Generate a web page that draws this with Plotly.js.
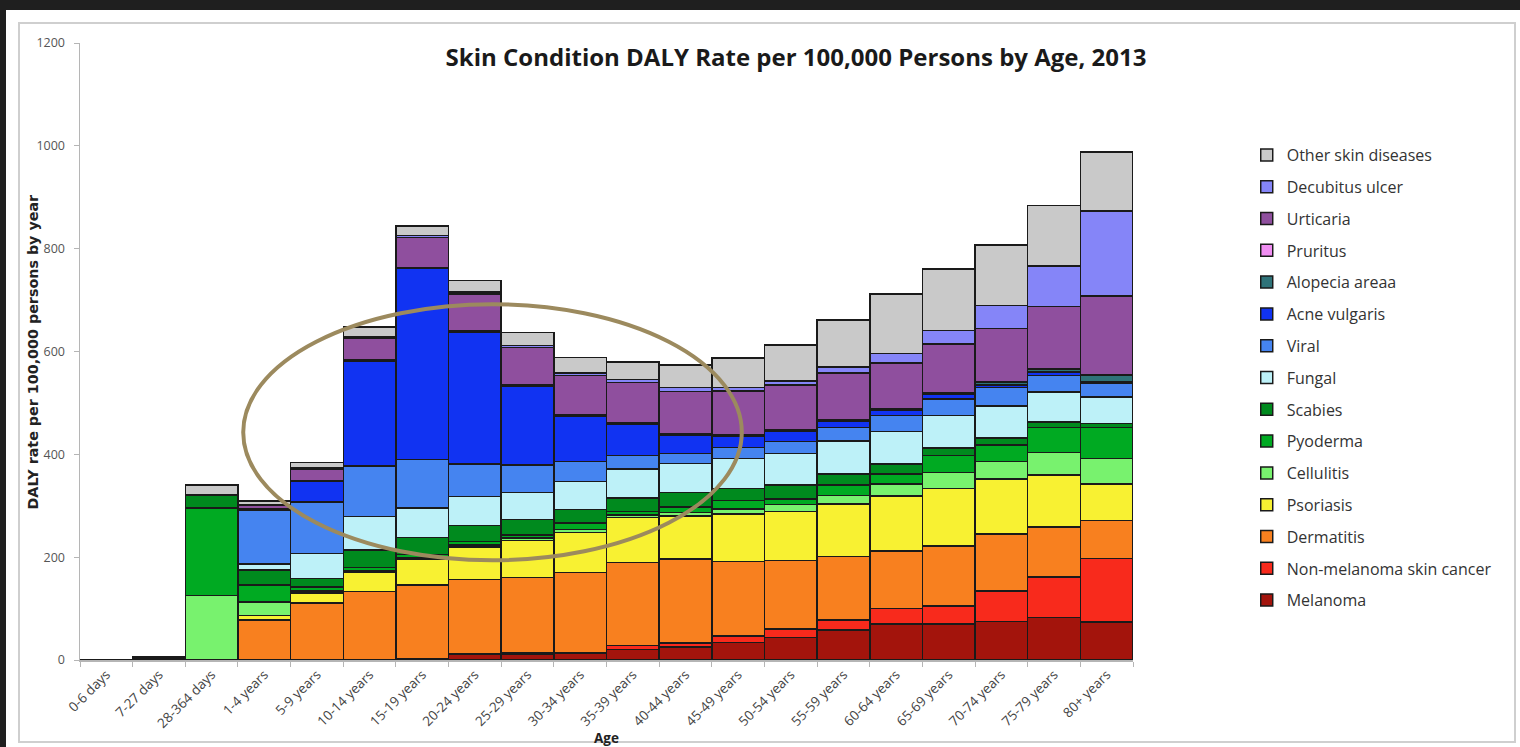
<!DOCTYPE html>
<html>
<head>
<meta charset="utf-8">
<script src="https://cdn.plot.ly/plotly-3.0.1.min.js"></script>
<style>
  html, body { margin:0; padding:0; background:#1f1f1f; width:1520px; height:747px; overflow:hidden; }
  #panel { position:absolute; left:6px; top:10px; width:1514px; height:737px; background:#ffffff; }
  #frame { position:absolute; left:18px; top:22px; width:1498px; height:721px; border:2px solid #cfcfcf; box-sizing:border-box; }
  #chart { position:absolute; left:0; top:0; width:1520px; height:747px; }
</style>
</head>
<body>
<div id="panel"></div>
<div id="frame"></div>
<div id="chart"></div>
<script>
const ages = ["0-6 days","7-27 days","28-364 days","1-4 years","5-9 years","10-14 years","15-19 years","20-24 years","25-29 years","30-34 years","35-39 years","40-44 years","45-49 years","50-54 years","55-59 years","60-64 years","65-69 years","70-74 years","75-79 years","80+ years"];

const melanoma   = [0,0,0,0,0,0,2,11,12,13,20,25,34,44,58,70,70,75,83,74];
const nmsc       = [0,0,0,0,0,0,0,2,2,2,8,8,13,16,20,30,35,59,78,123];
const dermatitis = [0,0,0,78,111,133,144,144,146,155,162,163,145,134,123,112,117,111,98,74];
const psoriasis  = [0,0,0,9,19,37,50,63,72,78,87,84,92,95,102,107,112,107,101,71];
const cellulitis = [0,1,125,26,4,3,3,4,5,6,5,7,10,13,17,23,31,34,44,50];
const pyoderma   = [0,2,171,33,8,7,6,6,6,12,7,11,16,11,20,20,33,32,48,60];
const scabies    = [0,1,25,29,17,34,33,32,30,27,26,28,24,27,22,19,14,14,11,8];
const fungal     = [0,0,0,12,48,65,58,56,53,54,56,56,58,62,64,63,64,62,58,52];
const viral      = [0,0,0,105,100,98,94,63,53,39,27,20,21,23,26,32,32,36,32,27];
const acne       = [0,0,0,2,40,204,371,257,153,88,61,35,23,19,12,9,8,5,7,3];
const alopecia   = [0,0,0,0,1,1,1,2,2,2,2,2,2,2,3,3,3,6,5,12];
const pruritus   = [0,0,0,0,0,1,1,1,1,1,1,1,1,1,1,1,1,1,1,1];
const urticaria  = [0,0,1,7,23,42,59,71,73,76,78,82,84,88,90,89,95,103,122,153];
const decubitus  = [0,0,0,0,3,3,4,4,4,5,6,8,7,8,12,18,26,44,78,165];
const other      = [1,2,18,8,10,20,18,22,25,30,34,44,57,70,91,116,119,118,118,115];

const seriesNames = ["Melanoma","Non-melanoma skin cancer","Dermatitis","Psoriasis","Cellulitis","Pyoderma","Scabies","Fungal","Viral","Acne vulgaris","Alopecia areaa","Pruritus","Urticaria","Decubitus ulcer","Other skin diseases"];
const seriesValues = [melanoma,nmsc,dermatitis,psoriasis,cellulitis,pyoderma,scabies,fungal,viral,acne,alopecia,pruritus,urticaria,decubitus,other];
const seriesColors = ["#a3140c","#f82a1c","#f8801f","#f8f132","#78f26e","#00aa22","#008a1e","#bdf1f8","#4584f0","#1133f2","#2f7379","#f08ef2","#8f4f9e","#8585f8","#c9c9c9"];

const traces = seriesNames.map((n, i) => ({
  type: 'bar',
  name: n,
  x: ages,
  y: seriesValues[i],
  legendgroup: 'g' + i,
  legendrank: 1000 - i,
  marker: { color: seriesColors[i], line: { color: '#1a1a1a', width: 1.5 } },
  hoverinfo: 'name+y'
}));

const FONT = 'Open Sans, Lato, sans-serif';

const layout = {
  width: 1520, height: 747,
  margin: { l: 80, r: 387, t: 43, b: 87 },
  paper_bgcolor: 'rgba(0,0,0,0)',
  plot_bgcolor: 'rgba(0,0,0,0)',
  barmode: 'stack',
  bargap: 0,
  font: { family: FONT, color: '#444' },
  title: {
    text: '<b>Skin Condition DALY Rate per 100,000 Persons by Age, 2013</b>',
    font: { family: FONT, size: 24, color: '#1a1a1a' },
    x: 0.68, xref: 'paper', xanchor: 'center',
    y: 1 - 58/747, yref: 'container', yanchor: 'middle'
  },
  xaxis: {
    type: 'category',
    tickangle: -45,
    tickfont: { family: FONT, size: 13.5, color: '#444' },
    showline: true, linecolor: '#b5b5b5', linewidth: 1.5,
    ticks: 'outside', tickson: 'boundaries', ticklen: 5, tickcolor: '#b5b5b5',
    showgrid: false, zeroline: false,
    title: { text: '<b>Age</b>', font: { family: FONT, size: 13.5, color: '#222' }, standoff: 0 },
    automargin: false
  },
  yaxis: {
    range: [0, 1200], dtick: 200,
    tickfont: { family: FONT, size: 12.5, color: '#555' },
    showline: true, linecolor: '#b5b5b5', linewidth: 1.5,
    ticks: 'outside', ticklen: 5, tickcolor: '#b5b5b5',
    ticklabelstandoff: 6,
    showgrid: false, zeroline: false,
    automargin: false
  },
  annotations: [{
    text: '<b>DALY rate per 100,000 persons by year</b>',
    xref: 'paper', yref: 'paper',
    x: (32 - 80) / 1053, y: 0.5,
    xanchor: 'center', yanchor: 'middle',
    textangle: -90, showarrow: false,
    font: { family: 'DejaVu Sans, sans-serif', size: 14.3, color: '#222' }
  }],
  legend: {
    x: 1.108, xanchor: 'left', xref: 'paper',
    y: 0.846, yanchor: 'top', yref: 'paper',
    traceorder: 'grouped',
    tracegroupgap: 8,
    font: { family: FONT, size: 16, color: '#333' },
    bgcolor: 'rgba(0,0,0,0)',
    itemwidth: 30
  },
  shapes: [{
    type: 'circle', xref: 'x', yref: 'y',
    x0: 2.6, x1: 12.07, y0: 194, y1: 692,
    line: { color: '#9c8a5e', width: 4 },
    fillcolor: 'rgba(0,0,0,0)'
  }],
  showlegend: true
};

Plotly.newPlot('chart', traces, layout, { displayModeBar: false, staticPlot: true });
</script>
</body>
</html>
